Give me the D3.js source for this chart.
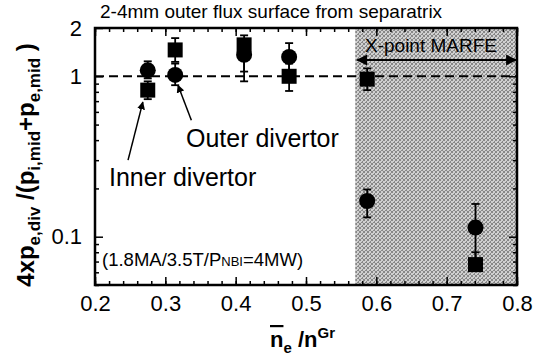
<!DOCTYPE html>
<html>
<head>
<meta charset="utf-8">
<script src="https://cdn.jsdelivr.net/npm/d3@7"></script>
<style>
  body { margin: 0; background: #fff; }
  svg { display: block; font-family: "Liberation Sans", Arial, sans-serif; }
</style>
</head>
<body>
<script>
// plot values
const densities = [0.275, 0.314, 0.412, 0.476, 0.587, 0.741];

// outer divertor (circles)
const outerVal = [1.09, 1.02, 1.36, 1.32, 0.167, 0.114];
const outerLo  = [0.97, 0.88, 0.93, 1.05, 0.132, 0.07];
const outerHi  = [1.24, 1.2, 1.62, 1.61, 0.197, 0.16];

// inner divertor (squares)
const innerVal = [0.82, 1.46, 1.57, 1.0, 0.96, 0.067];
const innerLo  = [0.72, 1.23, 1.07, 0.81, 0.82, 0.061];
const innerHi  = [0.93, 1.73, 1.8, 1.2, 1.12, 0.08];

const xTicks = [0.2, 0.3, 0.4, 0.5, 0.6, 0.7, 0.8];
const yTicks = [0.1, 1, 2];
const marfeStart = 0.57;

const W = 536, H = 361;
const M = { left: 95, right: 19, top: 28, bottom: 76 };

const svg = d3.select('body').append('svg')
    .attr('width', W)
    .attr('height', H);

const x = d3.scaleLinear().domain([0.2, 0.8]).range([M.left, W - M.right]);
const y = d3.scaleLog().domain([0.05, 2]).range([H - M.bottom, M.top]);

// stipple pattern for the MARFE region
const defs = svg.append('defs');
const pat = defs.append('pattern')
    .attr('id', 'stipple')
    .attr('width', 4).attr('height', 4)
    .attr('patternUnits', 'userSpaceOnUse');
pat.append('rect').attr('width', 4).attr('height', 4).attr('fill', '#d0d0d0');
[[0, 0], [2, 1], [1, 2], [3, 3], [3, 0], [0, 3], [2, 2]].forEach(p => {
    pat.append('rect').attr('x', p[0]).attr('y', p[1]).attr('width', 1).attr('height', 1).attr('fill', '#888');
});

defs.append('marker')
    .attr('id', 'arrow')
    .attr('viewBox', '0 0 10 10')
    .attr('refX', 9).attr('refY', 5)
    .attr('markerWidth', 8).attr('markerHeight', 8)
    .attr('markerUnits', 'userSpaceOnUse')
    .attr('orient', 'auto-start-reverse')
    .append('path').attr('d', 'M0,0 L10,5 L0,10 z').attr('fill', '#000');

defs.append('marker')
    .attr('id', 'arrowBig')
    .attr('viewBox', '0 0 10 10')
    .attr('refX', 9).attr('refY', 5)
    .attr('markerWidth', 13).attr('markerHeight', 11)
    .attr('markerUnits', 'userSpaceOnUse')
    .attr('orient', 'auto-start-reverse')
    .append('path').attr('d', 'M0,0 L10,5 L0,10 z').attr('fill', '#000');

// shaded MARFE region
svg.append('rect')
    .attr('x', x(marfeStart))
    .attr('y', y(2))
    .attr('width', x(0.8) - x(marfeStart))
    .attr('height', y(0.05) - y(2))
    .attr('fill', 'url(#stipple)');

// reference line at 1
svg.append('line')
    .attr('x1', x(0.2)).attr('x2', x(0.8))
    .attr('y1', y(1)).attr('y2', y(1))
    .attr('stroke', '#000')
    .attr('stroke-width', 2)
    .attr('stroke-dasharray', '9,5');

// axes (ticks pointing inward)
const innerH = y(0.05) - y(2), innerW = x(0.8) - x(0.2);
const minorX = d3.range(0.2, 0.8001, 0.02);
const minorY = [0.05, 0.06, 0.07, 0.08, 0.09, 0.2, 0.3, 0.4, 0.5, 0.6, 0.7, 0.8, 0.9];

function styleAxis(g) {
    g.select('.domain').remove();
    g.selectAll('line').attr('stroke', '#000').attr('stroke-width', 1.5);
}

svg.append('g')
    .attr('transform', `translate(0,${y(0.05)})`)
    .call(d3.axisBottom(x).tickValues(minorX).tickSize(-4).tickFormat(''))
    .call(styleAxis);
svg.append('g')
    .attr('transform', `translate(0,${y(0.05)})`)
    .call(d3.axisBottom(x).tickValues(xTicks).tickSize(-8).tickFormat(d3.format('.1f')))
    .call(styleAxis)
    .call(g => g.selectAll('text').attr('font-size', 22).attr('fill', '#000').attr('dy', '0.71em').attr('y', 10));

svg.append('g')
    .attr('transform', `translate(0,${y(2)})`)
    .call(d3.axisTop(x).tickValues(minorX).tickSize(-4).tickFormat(''))
    .call(styleAxis);
svg.append('g')
    .attr('transform', `translate(0,${y(2)})`)
    .call(d3.axisTop(x).tickValues(xTicks).tickSize(-8).tickFormat(''))
    .call(styleAxis);

svg.append('g')
    .attr('transform', `translate(${x(0.2)},0)`)
    .call(d3.axisLeft(y).tickValues(minorY).tickSize(-4).tickFormat(''))
    .call(styleAxis);
svg.append('g')
    .attr('transform', `translate(${x(0.2)},0)`)
    .call(d3.axisLeft(y).tickValues(yTicks).tickSize(-8).tickFormat(d => d < 1 ? d3.format('.1f')(d) : d3.format('d')(d)))
    .call(styleAxis)
    .call(g => g.selectAll('text').attr('font-size', 22).attr('fill', '#000').attr('x', -13));

svg.append('g')
    .attr('transform', `translate(${x(0.8)},0)`)
    .call(d3.axisRight(y).tickValues(minorY).tickSize(-4).tickFormat(''))
    .call(styleAxis);
svg.append('g')
    .attr('transform', `translate(${x(0.8)},0)`)
    .call(d3.axisRight(y).tickValues(yTicks).tickSize(-8).tickFormat(''))
    .call(styleAxis);

// frame
svg.append('rect')
    .attr('x', x(0.2)).attr('y', y(2))
    .attr('width', innerW).attr('height', innerH)
    .attr('fill', 'none').attr('stroke', '#000').attr('stroke-width', 2.5);

// error bars
function errBars(lo, hi) {
    const g = svg.append('g').attr('stroke', '#000').attr('stroke-width', 1.8);
    densities.forEach((d, i) => {
        const cx = x(d);
        g.append('line').attr('x1', cx).attr('x2', cx).attr('y1', y(lo[i])).attr('y2', y(hi[i]));
        g.append('line').attr('x1', cx - 4).attr('x2', cx + 4).attr('y1', y(lo[i])).attr('y2', y(lo[i]));
        g.append('line').attr('x1', cx - 4).attr('x2', cx + 4).attr('y1', y(hi[i])).attr('y2', y(hi[i]));
    });
}
errBars(outerLo, outerHi);
errBars(innerLo, innerHi);

svg.append('g').selectAll('rect')
    .data(densities)
    .join('rect')
    .attr('x', d => x(d) - 7.5)
    .attr('y', (d, i) => y(innerVal[i]) - 7.5)
    .attr('width', 15).attr('height', 15)
    .attr('fill', '#000');

svg.append('g').selectAll('circle')
    .data(densities)
    .join('circle')
    .attr('cx', d => x(d))
    .attr('cy', (d, i) => y(outerVal[i]))
    .attr('r', 8)
    .attr('fill', '#000');

// annotations
svg.append('text')
    .attr('x', 100).attr('y', 18)
    .attr('font-size', 19)
    .text('2-4mm outer flux surface from separatrix');

svg.append('line')
    .attr('x1', x(marfeStart) + 2).attr('x2', x(0.8) - 1)
    .attr('y1', 60).attr('y2', 60)
    .attr('stroke', '#000').attr('stroke-width', 2)
    .attr('marker-start', 'url(#arrowBig)')
    .attr('marker-end', 'url(#arrowBig)');

svg.append('text')
    .attr('x', 431).attr('y', 52)
    .attr('text-anchor', 'middle')
    .attr('font-size', 19)
    .text('X-point MARFE');

svg.append('line')
    .attr('x1', x(0.337)).attr('y1', y(0.532))
    .attr('x2', x(0.318)).attr('y2', y(0.88))
    .attr('stroke', '#000').attr('stroke-width', 1.5)
    .attr('marker-end', 'url(#arrow)');
svg.append('line')
    .attr('x1', x(0.247)).attr('y1', y(0.30))
    .attr('x2', x(0.268)).attr('y2', y(0.69))
    .attr('stroke', '#000').attr('stroke-width', 1.5)
    .attr('marker-end', 'url(#arrow)');

svg.append('text')
    .attr('x', 186).attr('y', 147)
    .attr('font-size', 25)
    .text('Outer divertor');
svg.append('text')
    .attr('x', 109).attr('y', 186)
    .attr('font-size', 25)
    .text('Inner divertor');

const cond = svg.append('text')
    .attr('x', 102).attr('y', 266)
    .attr('font-size', 18.5);
cond.append('tspan').text('(1.8MA/3.5T/P');
cond.append('tspan').attr('font-size', 13).text('NBI');
cond.append('tspan').text('=4MW)');

// axis titles
const yl = svg.append('text')
    .attr('transform', 'translate(34,165) rotate(-90)')
    .attr('text-anchor', 'middle')
    .attr('font-size', 24)
    .attr('font-weight', 'bold');
yl.append('tspan').text('4xp');
yl.append('tspan').attr('font-size', 17).attr('dy', 6).text('e,div');
yl.append('tspan').attr('dy', -6).text(' /(p');
yl.append('tspan').attr('font-size', 17).attr('dy', 6).text('i,mid');
yl.append('tspan').attr('dy', -6).text('+p');
yl.append('tspan').attr('font-size', 17).attr('dy', 6).text('e,mid');
yl.append('tspan').attr('dy', -6).text(' )');

const xl = svg.append('text')
    .attr('x', 270).attr('y', 347)
    .attr('font-size', 22)
    .attr('font-weight', 'bold');
xl.append('tspan').attr('text-decoration', 'overline').text('n');
xl.append('tspan').attr('font-size', 15).attr('dy', 6).text('e');
xl.append('tspan').attr('dy', -6).text(' /n');
xl.append('tspan').attr('font-size', 15).attr('dy', -9).text('Gr');
</script>
</body>
</html>
